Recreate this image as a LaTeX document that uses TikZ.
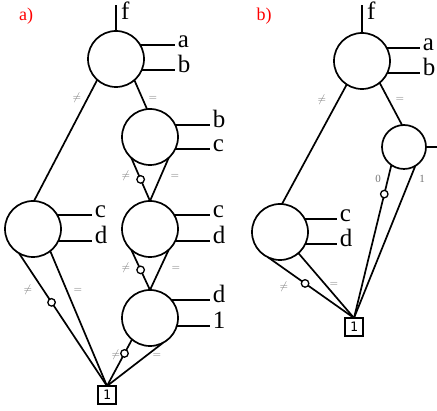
\documentclass[tikz,border=0pt]{standalone}
\usepackage{fontspec}
\setmainfont{Liberation Serif}
\newfontfamily\leaffont{DejaVu Sans Mono}
\usepackage{tikz}
\usetikzlibrary{positioning}
\tikzset{
    vertex/.style={circle, draw, line width=1.7pt, minimum size=56pt, inner sep=0pt, outer sep=0pt},
    smallvertex/.style={vertex, minimum size=44pt},
    leaf/.style={rectangle, draw, line width=1.7pt, minimum size=18pt, inner sep=0pt, outer sep=0pt, font=\leaffont\fontsize{13}{13}\selectfont},
    wire/.style={line width=1.7pt},
    neg/.style={circle, draw, fill=white, line width=1.3pt, minimum size=7.5pt, inner sep=0pt},
    var/.style={anchor=mid west, inner sep=2pt, font=\fontsize{25}{27}\selectfont},
    cmp/.style={text=black!55, inner sep=0pt, font=\fontsize{11}{12}\selectfont},
    panel/.style={text=red, font=\fontsize{18}{20}\selectfont}
}

\begin{document}
\begin{tikzpicture}[x=1pt, y=-1pt]
    \useasboundingbox (0,0) rectangle (437,411);

    % a)
    \node[panel] (pa) at (26,16) {a)};
    \node[vertex] (A1) at (116,59) {};
    \node[vertex] (A2) at (150,137) {};
    \node[vertex] (A3) at (33,229) {};
    \node[vertex] (A4) at (150,229) {};
    \node[vertex] (A5) at (150,318) {};
    \node[leaf] (T1) at (107,395) {1};

    \coordinate (fA) at (116,5);
    \draw[wire] (A1) -- (fA);
    \node[var] (A1f) at (119,17) {f};
    \draw[wire] (A1.30) -- (A1.30 -| 175,0) node[var] (A1a) {a};
    \draw[wire] (A1.-23) -- (A1.-23 -| 175,0) node[var] (A1b) {b};
    \draw[wire] (A2.25) -- (A2.25 -| 210,0) node[var] (A2b) {b};
    \draw[wire] (A2.-25) -- (A2.-25 -| 210,0) node[var] (A2c) {c};
    \draw[wire] (A3.30) -- (A3.30 -| 92,0) node[var] (A3c) {c};
    \draw[wire] (A3.-25) -- (A3.-25 -| 92,0) node[var] (A3d) {d};
    \draw[wire] (A4.30) -- (A4.30 -| 210,0) node[var] (A4c) {c};
    \draw[wire] (A4.-25) -- (A4.-25 -| 210,0) node[var] (A4d) {d};
    \draw[wire] (A5.40) -- (A5.40 -| 210,0) node[var] (A5d) {d};
    \draw[wire] (A5.-17) -- (A5.-17 -| 210,0) node[var] (A5one) {1};

    \draw[wire] (A1.228) -- (A3.88);
    \draw[wire] (A1.311) -- (A2.96);
    \draw[wire] (A2.228) -- (A4.north) node[neg, pos=.5] (n24) {};
    \draw[wire] (A2.312) -- (A4.north);
    \draw[wire] (A4.228) -- (A5.north) node[neg, pos=.5] (n45) {};
    \draw[wire] (A4.312) -- (A5.north);
    \draw[wire] (A3.240) -- (T1.north) node[neg, pos=.37] (n3t) {};
    \draw[wire] (A3.308) -- (T1.north);
    \draw[wire] (A5.230) -- (T1.north) node[neg, pos=.3] (n5t) {};
    \draw[wire] (A5.298) -- (T1.north);

    \node[cmp] (c13) at (77,98) {$\neq$};
    \node[cmp] (e12) at (153,98) {$=$};
    \node[cmp] (c24) at (126,176) {$\neq$};
    \node[cmp] (e24) at (175,176) {$=$};
    \node[cmp] (c45) at (126,268) {$\neq$};
    \node[cmp] (e45) at (176,268) {$=$};
    \node[cmp] (c3t) at (28,290) {$\neq$};
    \node[cmp] (e3t) at (78,290) {$=$};
    \node[cmp] (c5t) at (116,355) {$\neq$};
    \node[cmp] (e5t) at (157,355) {$=$};

    % b)
    \node[panel] (pb) at (264,16) {b)};
    \node[vertex] (B1) at (362,61) {};
    \node[smallvertex] (B2) at (404,147) {};
    \node[vertex] (B3) at (280,232) {};
    \node[leaf] (T2) at (354,327) {1};

    \coordinate (fB) at (362,5);
    \draw[wire] (B1) -- (fB);
    \node[var] (B1f) at (365,17) {f};
    \draw[wire] (B1.28) -- (B1.28 -| 420,0) node[var] (B1a) {a};
    \draw[wire] (B1.-25) -- (B1.-25 -| 420,0) node[var] (B1b) {b};
    \coordinate (oB) at (437,147);
    \draw[wire] (B2) -- (oB);
    \draw[wire] (B3.28) -- (B3.28 -| 337,0) node[var] (B3c) {c};
    \draw[wire] (B3.-25) -- (B3.-25 -| 337,0) node[var] (B3d) {d};

    \draw[wire] (B1.237) -- (B3.86);
    \draw[wire] (B1.309) -- (B2.95);
    \draw[wire] (B2.235) -- (T2.north) node[neg, pos=.19] (m2t) {};
    \draw[wire] (B2.301) -- (T2.north);
    \draw[wire] (B3.245) -- (T2.north) node[neg, pos=.43] (m3t) {};
    \draw[wire] (B3.311) -- (T2.north);

    \node[cmp] (c13b) at (322,100) {$\neq$};
    \node[cmp] (e12b) at (400,99) {$=$};
    \node[cmp] (z2t) at (378,179) {0};
    \node[cmp] (o2t) at (422,179) {1};
    \node[cmp] (c3tb) at (284,287) {$\neq$};
    \node[cmp] (e3tb) at (334,284) {$=$};
\end{tikzpicture}
\end{document}
